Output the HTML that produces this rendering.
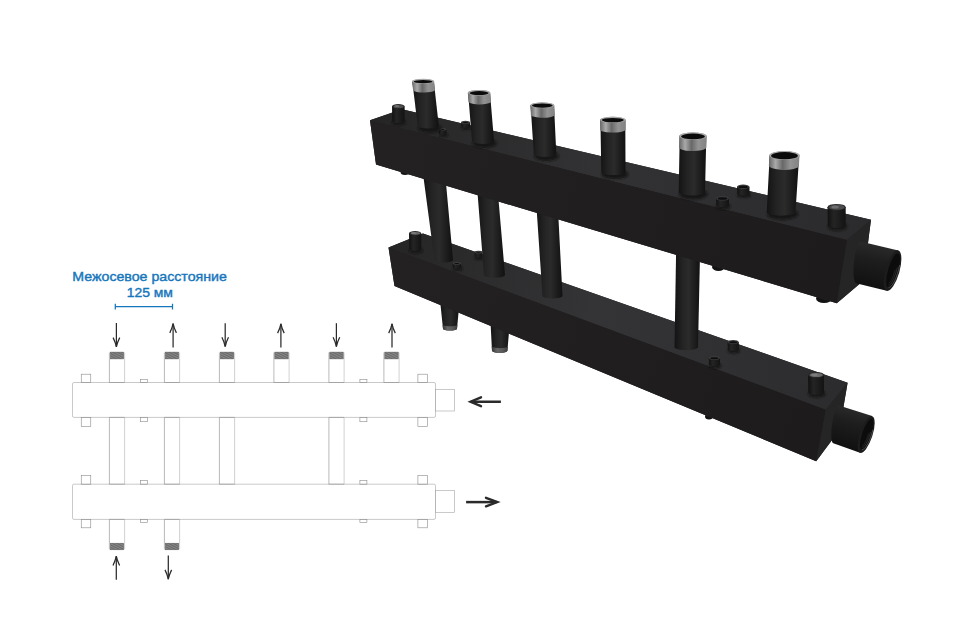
<!DOCTYPE html>
<html><head><meta charset="utf-8">
<style>
html,body{margin:0;padding:0;background:#fff;}
body{width:960px;height:630px;overflow:hidden;font-family:"Liberation Sans",sans-serif;}
svg{display:block;}
text{font-family:"Liberation Sans",sans-serif;}
</style></head><body>
<svg width="960" height="630" viewBox="0 0 960 630">
<defs>
<linearGradient id="gPipe" x1="0" x2="1" y1="0" y2="0">
<stop offset="0" stop-color="#141313"/><stop offset="0.3" stop-color="#242323"/><stop offset="0.55" stop-color="#2c2b2b"/><stop offset="0.85" stop-color="#1a1919"/><stop offset="1" stop-color="#121111"/>
</linearGradient>
<linearGradient id="gThread" x1="0" x2="1" y1="0" y2="0">
<stop offset="0" stop-color="#6c6c6d"/><stop offset="0.22" stop-color="#b4b4b5"/><stop offset="0.45" stop-color="#6f6f70"/><stop offset="0.7" stop-color="#9c9c9d"/><stop offset="1" stop-color="#8a8a8b"/>
</linearGradient>
<linearGradient id="gThread2" x1="0" x2="1" y1="0" y2="0">
<stop offset="0" stop-color="#353536"/><stop offset="0.35" stop-color="#666667"/><stop offset="0.7" stop-color="#58585a"/><stop offset="1" stop-color="#3c3c3d"/>
</linearGradient>
<linearGradient id="gTopU" gradientUnits="userSpaceOnUse" x1="370" y1="120" x2="871" y2="220">
<stop offset="0" stop-color="#262526"/><stop offset="0.45" stop-color="#323234"/><stop offset="1" stop-color="#2b2b2d"/>
</linearGradient>
<linearGradient id="gTopL" gradientUnits="userSpaceOnUse" x1="388" y1="247" x2="848" y2="383">
<stop offset="0" stop-color="#262526"/><stop offset="0.45" stop-color="#343436"/><stop offset="1" stop-color="#2c2c2e"/>
</linearGradient>
<linearGradient id="gFrontU" gradientUnits="userSpaceOnUse" x1="370" y1="140" x2="842" y2="270">
<stop offset="0" stop-color="#232121"/><stop offset="0.5" stop-color="#201e1e"/><stop offset="1" stop-color="#1d1b1b"/>
</linearGradient>
<linearGradient id="gFrontL" gradientUnits="userSpaceOnUse" x1="388" y1="266" x2="820" y2="436">
<stop offset="0" stop-color="#232121"/><stop offset="0.5" stop-color="#201e1e"/><stop offset="1" stop-color="#1d1b1b"/>
</linearGradient>
<linearGradient id="gCoupU" gradientUnits="userSpaceOnUse" x1="878" y1="244" x2="868" y2="288">
<stop offset="0" stop-color="#2b2b2c"/><stop offset="0.35" stop-color="#1f1e1e"/><stop offset="1" stop-color="#111010"/>
</linearGradient>
<linearGradient id="gCoupL" gradientUnits="userSpaceOnUse" x1="855" y1="408" x2="843" y2="448">
<stop offset="0" stop-color="#2b2b2c"/><stop offset="0.35" stop-color="#1f1e1e"/><stop offset="1" stop-color="#111010"/>
</linearGradient>
<filter id="blur1" x="-30%" y="-60%" width="160%" height="220%"><feGaussianBlur stdDeviation="1.3"/></filter>
<pattern id="hatch" width="1.6" height="1.6" patternUnits="userSpaceOnUse" patternTransform="rotate(-20)"><rect width="1.6" height="1.6" fill="#8a8a8a"/><rect width="1.6" height="0.7" fill="#626262"/></pattern>
<pattern id="tl" width="4" height="1.25" patternUnits="userSpaceOnUse"><rect width="4" height="0.45" y="0.4" fill="#000" opacity="0.16"/></pattern>
<linearGradient id="gPort" x1="0" x2="1" y1="0" y2="0"><stop offset="0" stop-color="#121111"/><stop offset="0.35" stop-color="#252424"/><stop offset="1" stop-color="#141313"/></linearGradient>
</defs>
<rect width="960" height="630" fill="#ffffff"/>

<g id="model">
<path d="M439.8,298.0 L443.0,328.8 A7.0,1.8 0 0 0 457.0,328.8 L459.9,298.0 Z" fill="url(#gPipe)"/>
<path d="M442.5,324.2 L443.0,328.8 A7.0,1.8 0 0 0 457.0,328.8 L457.4,324.8 A7.5,1.8 0 0 1 442.5,324.2 Z" fill="url(#gThread2)"/>
<path d="M490.4,320.0 L492.0,350.8 A7.7,2.0 0 0 0 507.4,350.8 L510.0,320.0 Z" fill="url(#gPipe)"/>
<path d="M491.7,345.8 L492.0,350.8 A7.7,2.0 0 0 0 507.4,350.8 L507.8,346.4 A8.0,2.0 0 0 1 491.7,345.8 Z" fill="url(#gThread2)"/>
<ellipse cx="709" cy="416.5" rx="4" ry="3" fill="#141313"/>
<polygon points="388.5,247.5 423,233.5 847.6,382.7 839.5,430 816.2,461.2 394.5,286" fill="#222122"/>
<polygon points="388.5,247.5 423,233.5 847.6,382.7 825.8,409.7" fill="url(#gTopL)"/>
<polygon points="388.5,247.5 825.8,409.7 816.2,461.2 394.5,286" fill="url(#gFrontL)"/>
<polygon points="825.8,409.7 847.6,382.7 839.5,430 816.2,461.2" fill="#252526"/>
<path d="M838.9,405.6 L872.2,416.1 L860,452.8 L833.3,443.3 A4,19 8 0 1 838.9,405.6 Z" fill="url(#gCoupL)"/>
<ellipse cx="866.1" cy="434.5" rx="6.4" ry="19.3" transform="rotate(18.4 866.1 434.5)" fill="#1d1c1c"/>
<ellipse cx="866.7" cy="434.4" rx="4.6" ry="16.2" transform="rotate(18.4 866.7 434.4)" fill="#0c0c0d"/>
<g fill="none" transform="rotate(18.4 866.7 434.4)"><path d="M871.0,428 A4.4,16 0 0 1 866.9,450.3" stroke="#59595a" stroke-width="0.7"/><path d="M869.6,431 A3.2,14.2 0 0 1 866.4,448.4" stroke="#3b3b3c" stroke-width="0.6"/><path d="M868.3,433 A2.2,12.5 0 0 1 866,446.6" stroke="#333334" stroke-width="0.5"/></g>
<ellipse cx="415.9" cy="250.5" rx="7.0" ry="3.0" fill="#181717" filter="url(#blur1)"/>
<path d="M409.0,233.2 L409.3,249.3 A6.2,2.2 0 0 0 421.3,249.3 L421.3,233.2 Z" fill="url(#gPort)"/>
<ellipse cx="415.1" cy="233.2" rx="6.2" ry="2.2" fill="#2a2a2b"/>
<ellipse cx="415.4" cy="233.3" rx="4.8" ry="1.4" fill="#6a6a6c"/>
<ellipse cx="413.6" cy="233.0" rx="2.5" ry="1.0" fill="#8a8a8c" opacity="0.55"/>
<ellipse cx="457.6" cy="268.5" rx="5.0" ry="2.3" fill="#181717" filter="url(#blur1)"/>
<path d="M452.5,263.3 L452.8,267.3 A4.2,1.5 0 0 0 461.0,267.3 L461.0,263.3 Z" fill="url(#gPort)"/>
<ellipse cx="456.8" cy="263.3" rx="4.2" ry="1.5" fill="#3a3a3c"/>
<ellipse cx="456.8" cy="263.5" rx="2.6" ry="0.5" fill="#0d0d0e"/>
<ellipse cx="479.3" cy="257.8" rx="4.8" ry="2.2" fill="#181717" filter="url(#blur1)"/>
<path d="M474.5,252.2 L474.8,256.6 A4.0,1.4 0 0 0 482.5,256.6 L482.5,252.2 Z" fill="url(#gPort)"/>
<ellipse cx="478.5" cy="252.2" rx="4.0" ry="1.4" fill="#3a3a3c"/>
<ellipse cx="478.5" cy="252.4" rx="2.4" ry="0.4" fill="#0d0d0e"/>
<ellipse cx="715.2" cy="365.7" rx="6.4" ry="2.8" fill="#181717" filter="url(#blur1)"/>
<path d="M708.8,358.0 L709.1,364.5 A5.6,2.0 0 0 0 720.0,364.5 L720.0,358.0 Z" fill="url(#gPort)"/>
<ellipse cx="714.4" cy="358.0" rx="5.6" ry="2.0" fill="#3a3a3c"/>
<ellipse cx="714.4" cy="358.2" rx="4.0" ry="1.0" fill="#0d0d0e"/>
<ellipse cx="733.9" cy="350.7" rx="6.4" ry="2.8" fill="#181717" filter="url(#blur1)"/>
<path d="M727.5,342.0 L727.8,349.5 A5.6,2.0 0 0 0 738.8,349.5 L738.8,342.0 Z" fill="url(#gPort)"/>
<ellipse cx="733.1" cy="342.0" rx="5.6" ry="2.0" fill="#3a3a3c"/>
<ellipse cx="733.1" cy="342.2" rx="4.0" ry="1.0" fill="#0d0d0e"/>
<ellipse cx="816.8" cy="393.8" rx="8.8" ry="3.7" fill="#181717" filter="url(#blur1)"/>
<path d="M808.0,374.9 L808.3,392.6 A8.0,2.9 0 0 0 824.0,392.6 L824.0,374.9 Z" fill="url(#gPort)"/>
<ellipse cx="816.0" cy="374.9" rx="8.0" ry="2.9" fill="#2a2a2b"/>
<ellipse cx="816.3" cy="375.0" rx="6.6" ry="2.1" fill="#6a6a6c"/>
<ellipse cx="814.5" cy="374.7" rx="3.2" ry="1.3" fill="#8a8a8c" opacity="0.55"/>
<ellipse cx="405" cy="172" rx="4.5" ry="3" fill="#141313"/>
<ellipse cx="718.5" cy="267" rx="6.5" ry="4" fill="#141313"/>
<ellipse cx="824" cy="298.5" rx="8" ry="4.5" fill="#141313"/>
<path d="M422.5,170.0 L434.5,260.0 A9.2,2.4 0 0 0 453.0,260.0 L444.8,170.0 Z" fill="url(#gPipe)"/>
<path d="M476.5,180.0 L484.0,275.0 A10.5,2.7 0 0 0 505.0,275.0 L496.8,180.0 Z" fill="url(#gPipe)"/>
<path d="M536.0,200.0 L542.5,296.0 A10.0,2.6 0 0 0 562.5,296.0 L557.5,200.0 Z" fill="url(#gPipe)"/>
<path d="M676.3,240.0 L674.5,347.5 A11.8,3.1 0 0 0 698.0,347.5 L700.3,240.0 Z" fill="url(#gPipe)"/>
<polygon points="370,120.3 402,109.2 871,219.8 863,281 836.8,303.2 376,164.6" fill="#222122"/>
<polygon points="370,120.3 402,109.2 871,219.8 847,240" fill="url(#gTopU)"/>
<polygon points="370,120.3 847,240 836.8,303.2 376,164.6" fill="url(#gFrontU)"/>
<polygon points="847,240 871,219.8 863,281 836.8,303.2" fill="#252526"/>
<path d="M860.5,241.5 L898.3,250.5 L886.7,290.8 L856,283.2 A4.5,21 6 0 1 860.5,241.5 Z" fill="url(#gCoupU)"/>
<ellipse cx="892.5" cy="270.6" rx="7" ry="21" transform="rotate(16 892.5 270.6)" fill="#1d1c1c"/>
<ellipse cx="893.1" cy="270.5" rx="5" ry="17.8" transform="rotate(16 893.1 270.5)" fill="#0c0c0d"/>
<g fill="none" transform="rotate(16 893.1 270.5)"><path d="M897.8,263.5 A4.8,17.6 0 0 1 893.3,288" stroke="#59595a" stroke-width="0.7"/><path d="M896.3,266.5 A3.5,15.6 0 0 1 892.8,285.9" stroke="#3b3b3c" stroke-width="0.6"/><path d="M894.9,269 A2.4,13.8 0 0 1 892.4,284" stroke="#333334" stroke-width="0.5"/></g>
<ellipse cx="399.1" cy="122.4" rx="7.1" ry="3.1" fill="#181717" filter="url(#blur1)"/>
<path d="M392.0,106.3 L392.3,121.2 A6.3,2.3 0 0 0 404.6,121.2 L404.6,106.3 Z" fill="url(#gPort)"/>
<ellipse cx="398.3" cy="106.3" rx="6.3" ry="2.3" fill="#2a2a2b"/>
<ellipse cx="398.6" cy="106.4" rx="4.9" ry="1.5" fill="#505052"/>
<ellipse cx="396.8" cy="106.1" rx="2.5" ry="1.0" fill="#8a8a8c" opacity="0.55"/>
<ellipse cx="443.4" cy="134.8" rx="4.5" ry="2.1" fill="#181717" filter="url(#blur1)"/>
<path d="M438.8,129.3 L439.1,133.7 A3.8,1.3 0 0 0 446.3,133.7 L446.3,129.3 Z" fill="url(#gPort)"/>
<ellipse cx="442.6" cy="129.3" rx="3.8" ry="1.3" fill="#3a3a3c"/>
<ellipse cx="442.6" cy="129.5" rx="2.1" ry="0.4" fill="#0d0d0e"/>
<ellipse cx="466.3" cy="127.6" rx="5.3" ry="2.4" fill="#181717" filter="url(#blur1)"/>
<path d="M461.0,122.4 L461.3,126.4 A4.5,1.6 0 0 0 470.0,126.4 L470.0,122.4 Z" fill="url(#gPort)"/>
<ellipse cx="465.5" cy="122.4" rx="4.5" ry="1.6" fill="#3a3a3c"/>
<ellipse cx="465.5" cy="122.6" rx="2.9" ry="0.6" fill="#0d0d0e"/>
<ellipse cx="723.3" cy="206.4" rx="7.3" ry="3.1" fill="#181717" filter="url(#blur1)"/>
<path d="M716.0,198.3 L716.3,205.2 A6.5,2.3 0 0 0 729.0,205.2 L729.0,198.3 Z" fill="url(#gPort)"/>
<ellipse cx="722.5" cy="198.3" rx="6.5" ry="2.3" fill="#3a3a3c"/>
<ellipse cx="722.5" cy="198.5" rx="4.9" ry="1.3" fill="#0d0d0e"/>
<ellipse cx="744.0" cy="194.9" rx="7.0" ry="3.0" fill="#181717" filter="url(#blur1)"/>
<path d="M737.0,186.8 L737.3,193.8 A6.2,2.2 0 0 0 749.5,193.8 L749.5,186.8 Z" fill="url(#gPort)"/>
<ellipse cx="743.2" cy="186.8" rx="6.2" ry="2.2" fill="#3a3a3c"/>
<ellipse cx="743.2" cy="186.9" rx="4.7" ry="1.2" fill="#0d0d0e"/>
<ellipse cx="837.4" cy="226.5" rx="9.9" ry="4.1" fill="#181717" filter="url(#blur1)"/>
<path d="M827.5,207.2 L827.8,225.3 A9.1,3.3 0 0 0 845.7,225.3 L845.7,207.2 Z" fill="url(#gPort)"/>
<ellipse cx="836.6" cy="207.2" rx="9.1" ry="3.3" fill="#2a2a2b"/>
<ellipse cx="836.9" cy="207.3" rx="7.7" ry="2.5" fill="#4c4c4e"/>
<ellipse cx="835.1" cy="207.0" rx="3.6" ry="1.5" fill="#8a8a8c" opacity="0.55"/>
<ellipse cx="429.8" cy="128.2" rx="11.8" ry="4.5" fill="#171616" filter="url(#blur1)"/>
<path d="M412.3,81.3 L417.7,126.0 A10.6,2.7 0 0 0 438.8,126.0 L433.8,81.3 Z" fill="url(#gPipe)"/>
<path d="M412.0,81.3 L413.0,89.5 A11.0,2.5 0 0 0 435.0,90.3 L434.1,81.3 A11.1,2.5 0 0 0 412.0,81.3 Z" fill="url(#gThread)"/>
<path d="M412.0,81.3 L413.0,89.5 A11.0,2.5 0 0 0 435.0,90.3 L434.1,81.3 A11.1,2.5 0 0 0 412.0,81.3 Z" fill="url(#tl)"/>
<ellipse cx="423.1" cy="81.3" rx="11.1" ry="2.5" fill="#a9a9aa"/>
<ellipse cx="423.1" cy="81.6" rx="9.4" ry="1.7" fill="#0b0b0c"/>
<ellipse cx="484.5" cy="143.2" rx="12.2" ry="4.7" fill="#171616" filter="url(#blur1)"/>
<path d="M468.1,92.8 L472.0,141.0 A11.0,2.9 0 0 0 494.0,141.0 L490.0,92.8 Z" fill="url(#gPipe)"/>
<path d="M467.8,92.8 L468.5,101.2 A11.3,2.8 0 0 0 491.0,102.0 L490.3,92.8 A11.2,2.8 0 0 0 467.8,92.8 Z" fill="url(#gThread)"/>
<path d="M467.8,92.8 L468.5,101.2 A11.3,2.8 0 0 0 491.0,102.0 L490.3,92.8 A11.2,2.8 0 0 0 467.8,92.8 Z" fill="url(#tl)"/>
<ellipse cx="479.1" cy="92.8" rx="11.2" ry="2.8" fill="#a9a9aa"/>
<ellipse cx="479.1" cy="93.1" rx="9.6" ry="2.0" fill="#0b0b0c"/>
<ellipse cx="546.5" cy="156.2" rx="12.4" ry="4.7" fill="#171616" filter="url(#blur1)"/>
<path d="M530.6,105.3 L533.8,154.0 A11.2,2.9 0 0 0 556.3,154.0 L554.0,105.3 Z" fill="url(#gPipe)"/>
<path d="M530.3,105.3 L530.9,114.4 A11.9,2.9 0 0 0 554.7,115.2 L554.3,105.3 A12.0,2.9 0 0 0 530.3,105.3 Z" fill="url(#gThread)"/>
<path d="M530.3,105.3 L530.9,114.4 A11.9,2.9 0 0 0 554.7,115.2 L554.3,105.3 A12.0,2.9 0 0 0 530.3,105.3 Z" fill="url(#tl)"/>
<ellipse cx="542.3" cy="105.3" rx="12.0" ry="2.9" fill="#a9a9aa"/>
<ellipse cx="542.3" cy="105.6" rx="10.4" ry="2.1" fill="#0b0b0c"/>
<ellipse cx="614.9" cy="174.2" rx="13.3" ry="4.9" fill="#171616" filter="url(#blur1)"/>
<path d="M600.4,119.8 L601.3,172.0 A12.1,3.1 0 0 0 625.5,172.0 L625.3,119.8 Z" fill="url(#gPipe)"/>
<path d="M600.1,119.8 L600.3,129.2 A12.7,3.0 0 0 0 625.6,130.0 L625.6,119.8 A12.7,3.0 0 0 0 600.1,119.8 Z" fill="url(#gThread)"/>
<path d="M600.1,119.8 L600.3,129.2 A12.7,3.0 0 0 0 625.6,130.0 L625.6,119.8 A12.7,3.0 0 0 0 600.1,119.8 Z" fill="url(#tl)"/>
<ellipse cx="612.8" cy="119.8" rx="12.7" ry="3.0" fill="#a9a9aa"/>
<ellipse cx="612.8" cy="120.1" rx="11.1" ry="2.2" fill="#0b0b0c"/>
<ellipse cx="693.4" cy="194.2" rx="14.3" ry="5.2" fill="#171616" filter="url(#blur1)"/>
<path d="M679.7,136.1 L678.7,192.0 A13.1,3.4 0 0 0 705.0,192.0 L706.3,136.1 Z" fill="url(#gPipe)"/>
<path d="M679.4,136.1 L679.2,147.0 A13.6,3.6 0 0 0 706.3,147.8 L706.6,136.1 A13.6,3.6 0 0 0 679.4,136.1 Z" fill="url(#gThread)"/>
<path d="M679.4,136.1 L679.2,147.0 A13.6,3.6 0 0 0 706.3,147.8 L706.6,136.1 A13.6,3.6 0 0 0 679.4,136.1 Z" fill="url(#tl)"/>
<ellipse cx="693.0" cy="136.1" rx="13.6" ry="3.6" fill="#a9a9aa"/>
<ellipse cx="693.0" cy="136.4" rx="12.0" ry="2.8" fill="#0b0b0c"/>
<ellipse cx="782.6" cy="214.2" rx="15.6" ry="5.5" fill="#171616" filter="url(#blur1)"/>
<path d="M769.7,155.3 L766.7,212.0 A14.4,3.7 0 0 0 795.5,212.0 L799.2,155.3 Z" fill="url(#gPipe)"/>
<path d="M769.4,155.3 L768.9,165.1 A15.0,4.4 0 0 0 798.9,165.9 L799.5,155.3 A15.1,4.4 0 0 0 769.4,155.3 Z" fill="url(#gThread)"/>
<path d="M769.4,155.3 L768.9,165.1 A15.0,4.4 0 0 0 798.9,165.9 L799.5,155.3 A15.1,4.4 0 0 0 769.4,155.3 Z" fill="url(#tl)"/>
<ellipse cx="784.5" cy="155.3" rx="15.1" ry="4.4" fill="#a9a9aa"/>
<ellipse cx="784.5" cy="155.7" rx="13.4" ry="3.6" fill="#0b0b0c"/>
</g>
<g id="schem" fill="none" stroke="#8e8e8e" stroke-width="0.62">
<rect x="72.5" y="382.5" width="363" height="34.9" rx="1.5" fill="#fff" stroke="#a8a8a8"/>
<rect x="72.5" y="484.2" width="363" height="35.2" rx="1.5" fill="#fff" stroke="#a8a8a8"/>
<rect x="435.5" y="389.4" width="19" height="21.6" stroke="#a8a8a8"/>
<rect x="435.5" y="490.4" width="19" height="21.9" stroke="#a8a8a8"/>
<rect x="81.25" y="374.2" width="9.5" height="8.3"/>
<rect x="81.25" y="417.4" width="9.5" height="9.2"/>
<rect x="81.25" y="475.6" width="9.5" height="8.6"/>
<rect x="81.25" y="519.4" width="9.5" height="8.4"/>
<rect x="417.9" y="374.2" width="9.5" height="8.3"/>
<rect x="417.9" y="417.4" width="9.5" height="9.2"/>
<rect x="417.9" y="475.6" width="9.5" height="8.6"/>
<rect x="417.9" y="519.4" width="9.5" height="8.4"/>
<rect x="140.6" y="379.3" width="7" height="3.2"/>
<rect x="140.6" y="417.4" width="7" height="4.3"/>
<rect x="140.6" y="480.5" width="7" height="3.7"/>
<rect x="140.6" y="519.4" width="7" height="3.2"/>
<rect x="359.9" y="379.3" width="7" height="3.2"/>
<rect x="359.9" y="417.4" width="7" height="4.3"/>
<rect x="359.9" y="480.5" width="7" height="3.7"/>
<rect x="359.9" y="519.4" width="7" height="3.2"/>
<path d="M124.6,382.5 V352.5" stroke="#b4b4b4"/><path d="M109.4,382.5 V352.5 M109.4,382.5 H124.6"/>
<path d="M179.6,382.5 V352.5" stroke="#b4b4b4"/><path d="M164.4,382.5 V352.5 M164.4,382.5 H179.6"/>
<path d="M234.6,382.5 V352.5" stroke="#b4b4b4"/><path d="M219.4,382.5 V352.5 M219.4,382.5 H234.6"/>
<path d="M289.1,382.5 V352.5" stroke="#b4b4b4"/><path d="M273.9,382.5 V352.5 M273.9,382.5 H289.1"/>
<path d="M344.1,382.5 V352.5" stroke="#b4b4b4"/><path d="M328.9,382.5 V352.5 M328.9,382.5 H344.1"/>
<path d="M399.1,382.5 V352.5" stroke="#b4b4b4"/><path d="M383.9,382.5 V352.5 M383.9,382.5 H399.1"/>
<path d="M124.6,417.4 V484.2" stroke="#b4b4b4"/><path d="M109.4,417.4 V484.2 M109.4,417.4 H124.6 M109.4,484.2 H124.6"/>
<path d="M179.6,417.4 V484.2" stroke="#b4b4b4"/><path d="M164.4,417.4 V484.2 M164.4,417.4 H179.6 M164.4,484.2 H179.6"/>
<path d="M234.6,417.4 V484.2" stroke="#b4b4b4"/><path d="M219.4,417.4 V484.2 M219.4,417.4 H234.6 M219.4,484.2 H234.6"/>
<path d="M344.1,417.4 V484.2" stroke="#b4b4b4"/><path d="M328.9,417.4 V484.2 M328.9,417.4 H344.1 M328.9,484.2 H344.1"/>
<path d="M124.6,519.4 V549.5" stroke="#b4b4b4"/><path d="M109.4,519.4 V549.5 M109.4,519.4 H124.6"/>
<path d="M179.6,519.4 V549.5" stroke="#b4b4b4"/><path d="M164.4,519.4 V549.5 M164.4,519.4 H179.6"/>
</g>
<g id="threads">
<rect x="110.30000000000001" y="352.1" width="13.399999999999999" height="6.8" fill="url(#hatch)" stroke="#5a5a5a" stroke-width="0.5"/>
<rect x="165.3" y="352.1" width="13.399999999999999" height="6.8" fill="url(#hatch)" stroke="#5a5a5a" stroke-width="0.5"/>
<rect x="220.3" y="352.1" width="13.399999999999999" height="6.8" fill="url(#hatch)" stroke="#5a5a5a" stroke-width="0.5"/>
<rect x="274.79999999999995" y="352.1" width="13.399999999999999" height="6.8" fill="url(#hatch)" stroke="#5a5a5a" stroke-width="0.5"/>
<rect x="329.79999999999995" y="352.1" width="13.399999999999999" height="6.8" fill="url(#hatch)" stroke="#5a5a5a" stroke-width="0.5"/>
<rect x="384.79999999999995" y="352.1" width="13.399999999999999" height="6.8" fill="url(#hatch)" stroke="#5a5a5a" stroke-width="0.5"/>
<rect x="110.30000000000001" y="543.2" width="13.399999999999999" height="6.6" fill="url(#hatch)" stroke="#5a5a5a" stroke-width="0.5"/>
<rect x="165.3" y="543.2" width="13.399999999999999" height="6.6" fill="url(#hatch)" stroke="#5a5a5a" stroke-width="0.5"/>
</g>
<g id="arrows">
<path d="M116.4,323 V346.9" stroke="#2b2b2b" stroke-width="1.25" fill="none"/><path d="M113.10000000000001,337.59999999999997 Q115.5,342.4 116.4,346.9 Q117.30000000000001,342.4 119.7,337.59999999999997" stroke="#2b2b2b" stroke-width="1.25" fill="none" stroke-linejoin="miter"/>
<path d="M173.1,323.6 V347.6" stroke="#2b2b2b" stroke-width="1.25" fill="none"/><path d="M169.79999999999998,332.90000000000003 Q172.2,328.1 173.1,323.6 Q174.0,328.1 176.4,332.90000000000003" stroke="#2b2b2b" stroke-width="1.25" fill="none" stroke-linejoin="miter"/>
<path d="M225.2,323.2 V346.6" stroke="#2b2b2b" stroke-width="1.25" fill="none"/><path d="M221.89999999999998,337.3 Q224.29999999999998,342.1 225.2,346.6 Q226.1,342.1 228.5,337.3" stroke="#2b2b2b" stroke-width="1.25" fill="none" stroke-linejoin="miter"/>
<path d="M280.9,323.8 V347.4" stroke="#2b2b2b" stroke-width="1.25" fill="none"/><path d="M277.59999999999997,333.1 Q280.0,328.3 280.9,323.8 Q281.79999999999995,328.3 284.2,333.1" stroke="#2b2b2b" stroke-width="1.25" fill="none" stroke-linejoin="miter"/>
<path d="M336.4,323.2 V346.6" stroke="#2b2b2b" stroke-width="1.25" fill="none"/><path d="M333.09999999999997,337.3 Q335.5,342.1 336.4,346.6 Q337.29999999999995,342.1 339.7,337.3" stroke="#2b2b2b" stroke-width="1.25" fill="none" stroke-linejoin="miter"/>
<path d="M392,323.8 V347.4" stroke="#2b2b2b" stroke-width="1.25" fill="none"/><path d="M388.7,333.1 Q391.1,328.3 392,323.8 Q392.9,328.3 395.3,333.1" stroke="#2b2b2b" stroke-width="1.25" fill="none" stroke-linejoin="miter"/>
<path d="M116.3,556.2 V579.8" stroke="#2b2b2b" stroke-width="1.25" fill="none"/><path d="M113.0,565.5 Q115.39999999999999,560.7 116.3,556.2 Q117.2,560.7 119.6,565.5" stroke="#2b2b2b" stroke-width="1.25" fill="none" stroke-linejoin="miter"/>
<path d="M168.3,555.4 V579.2" stroke="#2b2b2b" stroke-width="1.25" fill="none"/><path d="M165.0,569.9000000000001 Q167.4,574.7 168.3,579.2 Q169.20000000000002,574.7 171.60000000000002,569.9000000000001" stroke="#2b2b2b" stroke-width="1.25" fill="none" stroke-linejoin="miter"/>
<path d="M471.5,401.75 H500.9" stroke="#2a2a2a" stroke-width="2.5" fill="none"/>
<path d="M481,397.3 L470.5,401.75 L481,406.2" stroke="#2a2a2a" stroke-width="2.4" fill="none" stroke-linecap="round" stroke-linejoin="miter"/>
<path d="M466.1,502.1 H496.5" stroke="#2a2a2a" stroke-width="2.5" fill="none"/>
<path d="M486,497.8 L497.3,502.1 L486,506.4" stroke="#2a2a2a" stroke-width="2.4" fill="none" stroke-linecap="round" stroke-linejoin="miter"/>
</g>
<g id="label" fill="#1676bc" stroke="#1676bc" stroke-width="0.4">
<text id="t1" x="149.6" y="280.8" font-size="13.1" text-anchor="middle" textLength="154.5" lengthAdjust="spacingAndGlyphs">Межосевое расстояние</text>
<text id="t2" x="149.8" y="296.9" font-size="13.4" text-anchor="middle" textLength="46.3" lengthAdjust="spacingAndGlyphs">125 мм</text>
<path d="M115.3,306.6 H172.5 M115.3,303.8 V309.6 M172.5,303.8 V309.6" stroke="#1676bc" stroke-width="1.25" fill="none"/>
</g>
</svg></body></html>
